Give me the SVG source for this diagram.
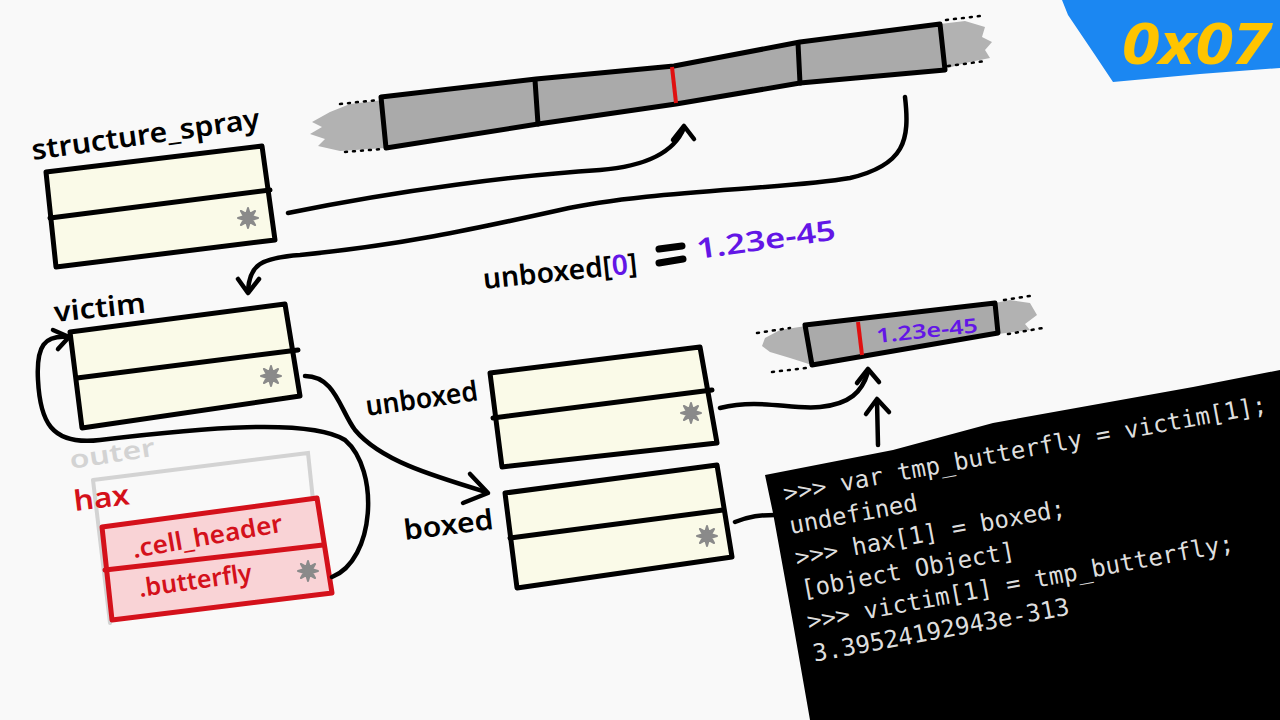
<svg xmlns="http://www.w3.org/2000/svg" width="1280" height="720" viewBox="0 0 1280 720">
<defs>
<style>
.bg{fill:#f9f9f9}
.box{fill:#fafae8;stroke:#000;stroke-width:5;stroke-linejoin:round;stroke-linecap:round}
.line{fill:none;stroke:#000;stroke-width:5;stroke-linecap:round;stroke-linejoin:round}
.conn{fill:none;stroke:#000;stroke-width:4.5;stroke-linecap:round;stroke-linejoin:round}
.bar{fill:#aaaaaa;stroke:#000;stroke-width:5;stroke-linejoin:round}
.smudge{fill:#b2b2b2}
.dots{fill:none;stroke:#000;stroke-width:2.5;stroke-dasharray:2 6;stroke-linecap:round}
.lbl{font-family:"Noto Sans","DejaVu Sans",sans-serif;font-weight:600;font-size:28px;fill:#000}
.red{fill:#d4111b}
.purple{fill:#6316e6}
.term{font-family:"DejaVu Sans Mono","Liberation Mono",monospace;font-size:24px;fill:#dedede}
.ast{fill:#8a8a8a;stroke:#8a8a8a;stroke-width:2;stroke-linejoin:round}
</style>
<polygon id="ast" points="10,0 4.16,1.72 7.07,7.07 1.72,4.16 0,10 -1.72,4.16 -7.07,7.07 -4.16,1.72 -10,0 -4.16,-1.72 -7.07,-7.07 -1.72,-4.16 0,-10 1.72,-4.16 7.07,-7.07 4.16,-1.72"/>
</defs>
<rect class="bg" x="0" y="0" width="1280" height="720"/>

<g id="badge">
<path d="M1062,0 L1280,0 L1280,68 L1200,74 L1113,82 L1095,55 L1068,15 Z" fill="#1b87f2"/>
<text x="1122" y="64" font-family="'Noto Sans',sans-serif" font-weight="700" font-style="italic" font-size="58" fill="#ffc400" textLength="148" lengthAdjust="spacingAndGlyphs">0x07</text>
</g>

<g id="spray-memory">
<path class="smudge" d="M383,100 L350,104 L330,112 L312,122 L322,127 L310,134 L325,139 L318,146 L340,151 L386,148 Z"/>
<path class="smudge" d="M940,24 L965,21 L985,27 L982,37 L992,42 L985,50 L990,58 L965,63 L945,69 Z"/>
<line class="dots" x1="340" y1="104" x2="378" y2="100"/>
<line class="dots" x1="345" y1="152" x2="383" y2="149"/>
<line class="dots" x1="946" y1="20" x2="980" y2="16"/>
<line class="dots" x1="948" y1="66" x2="986" y2="61"/>
<path class="bar" d="M381,97 L536,79 L674,66 L800,42 L940,24 L945,70 L800,83 L676,104 L538,124 L386,148 Z"/>
<line class="line" x1="535" y1="80" x2="538" y2="124"/>
<line x1="672" y1="67" x2="676" y2="103" stroke="#e01010" stroke-width="4"/>
<line class="line" x1="798" y1="43" x2="800" y2="83"/>
</g>

<g id="structure_spray">
<text class="lbl" x="33" y="160" transform="rotate(-8 33 160)" textLength="230" lengthAdjust="spacingAndGlyphs">structure_spray</text>
<polygon class="box" points="46,172 262,146 275,240 56,267"/>
<line class="line" x1="50" y1="218" x2="270" y2="190"/>
<use href="#ast" class="ast" x="248" y="218"/>
</g>

<g id="victim">
<text class="lbl" x="55" y="322" transform="rotate(-6 55 322)" textLength="92" lengthAdjust="spacingAndGlyphs">victim</text>
<polygon class="box" points="70,332 285,304 300,396 82,428"/>
<line class="line" x1="77" y1="378" x2="298" y2="350"/>
<use href="#ast" class="ast" x="271" y="376"/>
</g>

<g id="outer">
<text class="lbl" x="71" y="469" transform="rotate(-9 71 469)" style="fill:#d3d3d3;font-size:25px" textLength="86" lengthAdjust="spacingAndGlyphs">outer</text>
<path d="M93,480 L308,453 L313,500 M93,480 L110,623" fill="none" stroke="#d3d3d3" stroke-width="4" stroke-linecap="round"/>
</g>

<g id="hax">
<text class="lbl red" x="75" y="511" transform="rotate(-7 75 511)" textLength="56" lengthAdjust="spacingAndGlyphs">hax</text>
<polygon points="102,527 317,498 332,593 112,620" fill="#f9d3d6" stroke="#d4111b" stroke-width="5" stroke-linejoin="round"/>
<line x1="105" y1="570" x2="323" y2="545" stroke="#d4111b" stroke-width="5" stroke-linecap="round"/>
<text class="lbl red" x="134" y="558" style="font-size:25px" transform="rotate(-10 134 558)" textLength="152" lengthAdjust="spacingAndGlyphs">.cell_header</text>
<text class="lbl red" x="140" y="597" style="font-size:25px" transform="rotate(-8 140 597)" textLength="114" lengthAdjust="spacingAndGlyphs">.butterfly</text>
<use href="#ast" class="ast" x="308" y="571"/>
</g>

<g id="unboxed">
<text class="lbl" x="367" y="416" transform="rotate(-8 367 416)" textLength="113" lengthAdjust="spacingAndGlyphs">unboxed</text>
<polygon class="box" points="490,373 700,347 717,443 502,467"/>
<line class="line" x1="493" y1="418" x2="712" y2="390"/>
<use href="#ast" class="ast" x="691" y="413"/>
</g>

<g id="boxed">
<text class="lbl" x="405" y="540" transform="rotate(-7 405 540)" textLength="90" lengthAdjust="spacingAndGlyphs">boxed</text>
<polygon class="box" points="505,493 717,465 732,557 517,588"/>
<line class="line" x1="510" y1="538" x2="723" y2="510"/>
<use href="#ast" class="ast" x="707" y="536"/>
</g>

<g id="unboxed-memory">
<path class="smudge" d="M806,326 L780,330 L765,338 L762,346 L770,352 L790,358 L812,365 Z"/>
<path class="smudge" d="M995,303 L1010,300 L1030,303 L1037,315 L1025,324 L1030,330 L998,334 Z"/>
<line class="dots" x1="757" y1="333" x2="790" y2="328"/>
<line class="dots" x1="772" y1="372" x2="806" y2="368"/>
<line class="dots" x1="1004" y1="300" x2="1030" y2="296"/>
<line class="dots" x1="1008" y1="334" x2="1043" y2="328"/>
<path class="bar" d="M805,325 L995,303 L998,333 L812,365 Z"/>
<line x1="858" y1="322" x2="862" y2="355" stroke="#e01010" stroke-width="4"/>
<text class="lbl purple" x="877" y="343" style="font-size:20px" transform="rotate(-6 877 343)" textLength="102" lengthAdjust="spacingAndGlyphs">1.23e-45</text>
</g>

<g id="unboxed0-label">
<text class="lbl" x="484" y="289" transform="rotate(-6 484 289)" textLength="155" lengthAdjust="spacingAndGlyphs">unboxed[<tspan class="purple">0</tspan>]</text>
<line x1="659" y1="249" x2="682" y2="246" stroke="#000" stroke-width="7" stroke-linecap="round"/>
<line x1="659" y1="263" x2="683" y2="259" stroke="#000" stroke-width="7" stroke-linecap="round"/>
<text class="lbl purple" x="698" y="259" transform="rotate(-8 698 259)" textLength="140" lengthAdjust="spacingAndGlyphs">1.23e-45</text>
</g>

<g id="terminal">
<path d="M765,475 L893,450 L993,423 L1193,387 L1280,370 L1280,720 L810,720 L793,623 L773,513 Z" fill="#000"/>
<g transform="translate(785,502) rotate(-10.5)">
<text class="term" x="0" y="0">&gt;&gt;&gt; var tmp_butterfly = victim[1];</text>
<text class="term" x="0" y="32.5">undefined</text>
<text class="term" x="0" y="65">&gt;&gt;&gt; hax[1] = boxed;</text>
<text class="term" x="0" y="97.5">[object Object]</text>
<text class="term" x="0" y="130">&gt;&gt;&gt; victim[1] = tmp_butterfly;</text>
<text class="term" x="0" y="162.5">3.39524192943e-313</text>
</g>
</g>

<g id="connectors">
<path class="conn" d="M288,213 C400,190 520,175 600,170 C650,166 675,150 684,128"/>
<polyline class="conn" points="673,140 684,126 694,139"/>
<path class="conn" d="M905,97 C910,140 905,165 850,178 C780,190 650,190 560,210 C470,230 400,245 300,255 C260,258 250,265 248,290"/>
<polyline class="conn" points="238,279 248,293 259,279"/>
<path class="conn" d="M305,376 C335,376 340,410 355,430 C380,460 430,475 486,492"/>
<polyline class="conn" points="470,474 488,493 463,503"/>
<path class="conn" d="M332,577 C375,560 380,470 345,440 C310,418 200,428 100,440 C50,446 40,420 38,380 C36,345 45,335 68,337"/>
<polyline class="conn" points="53,330 69,337 58,349"/>
<path class="conn" d="M720,408 C760,398 790,410 820,407 C850,404 862,392 868,372"/>
<polyline class="conn" points="857,383 868,369 879,382"/>
<line class="conn" x1="878" y1="445" x2="877" y2="401"/>
<polyline class="conn" points="866,414 877,399 889,412"/>
<path class="conn" d="M735,522 C750,516 760,515 775,515"/>
</g>
</svg>
